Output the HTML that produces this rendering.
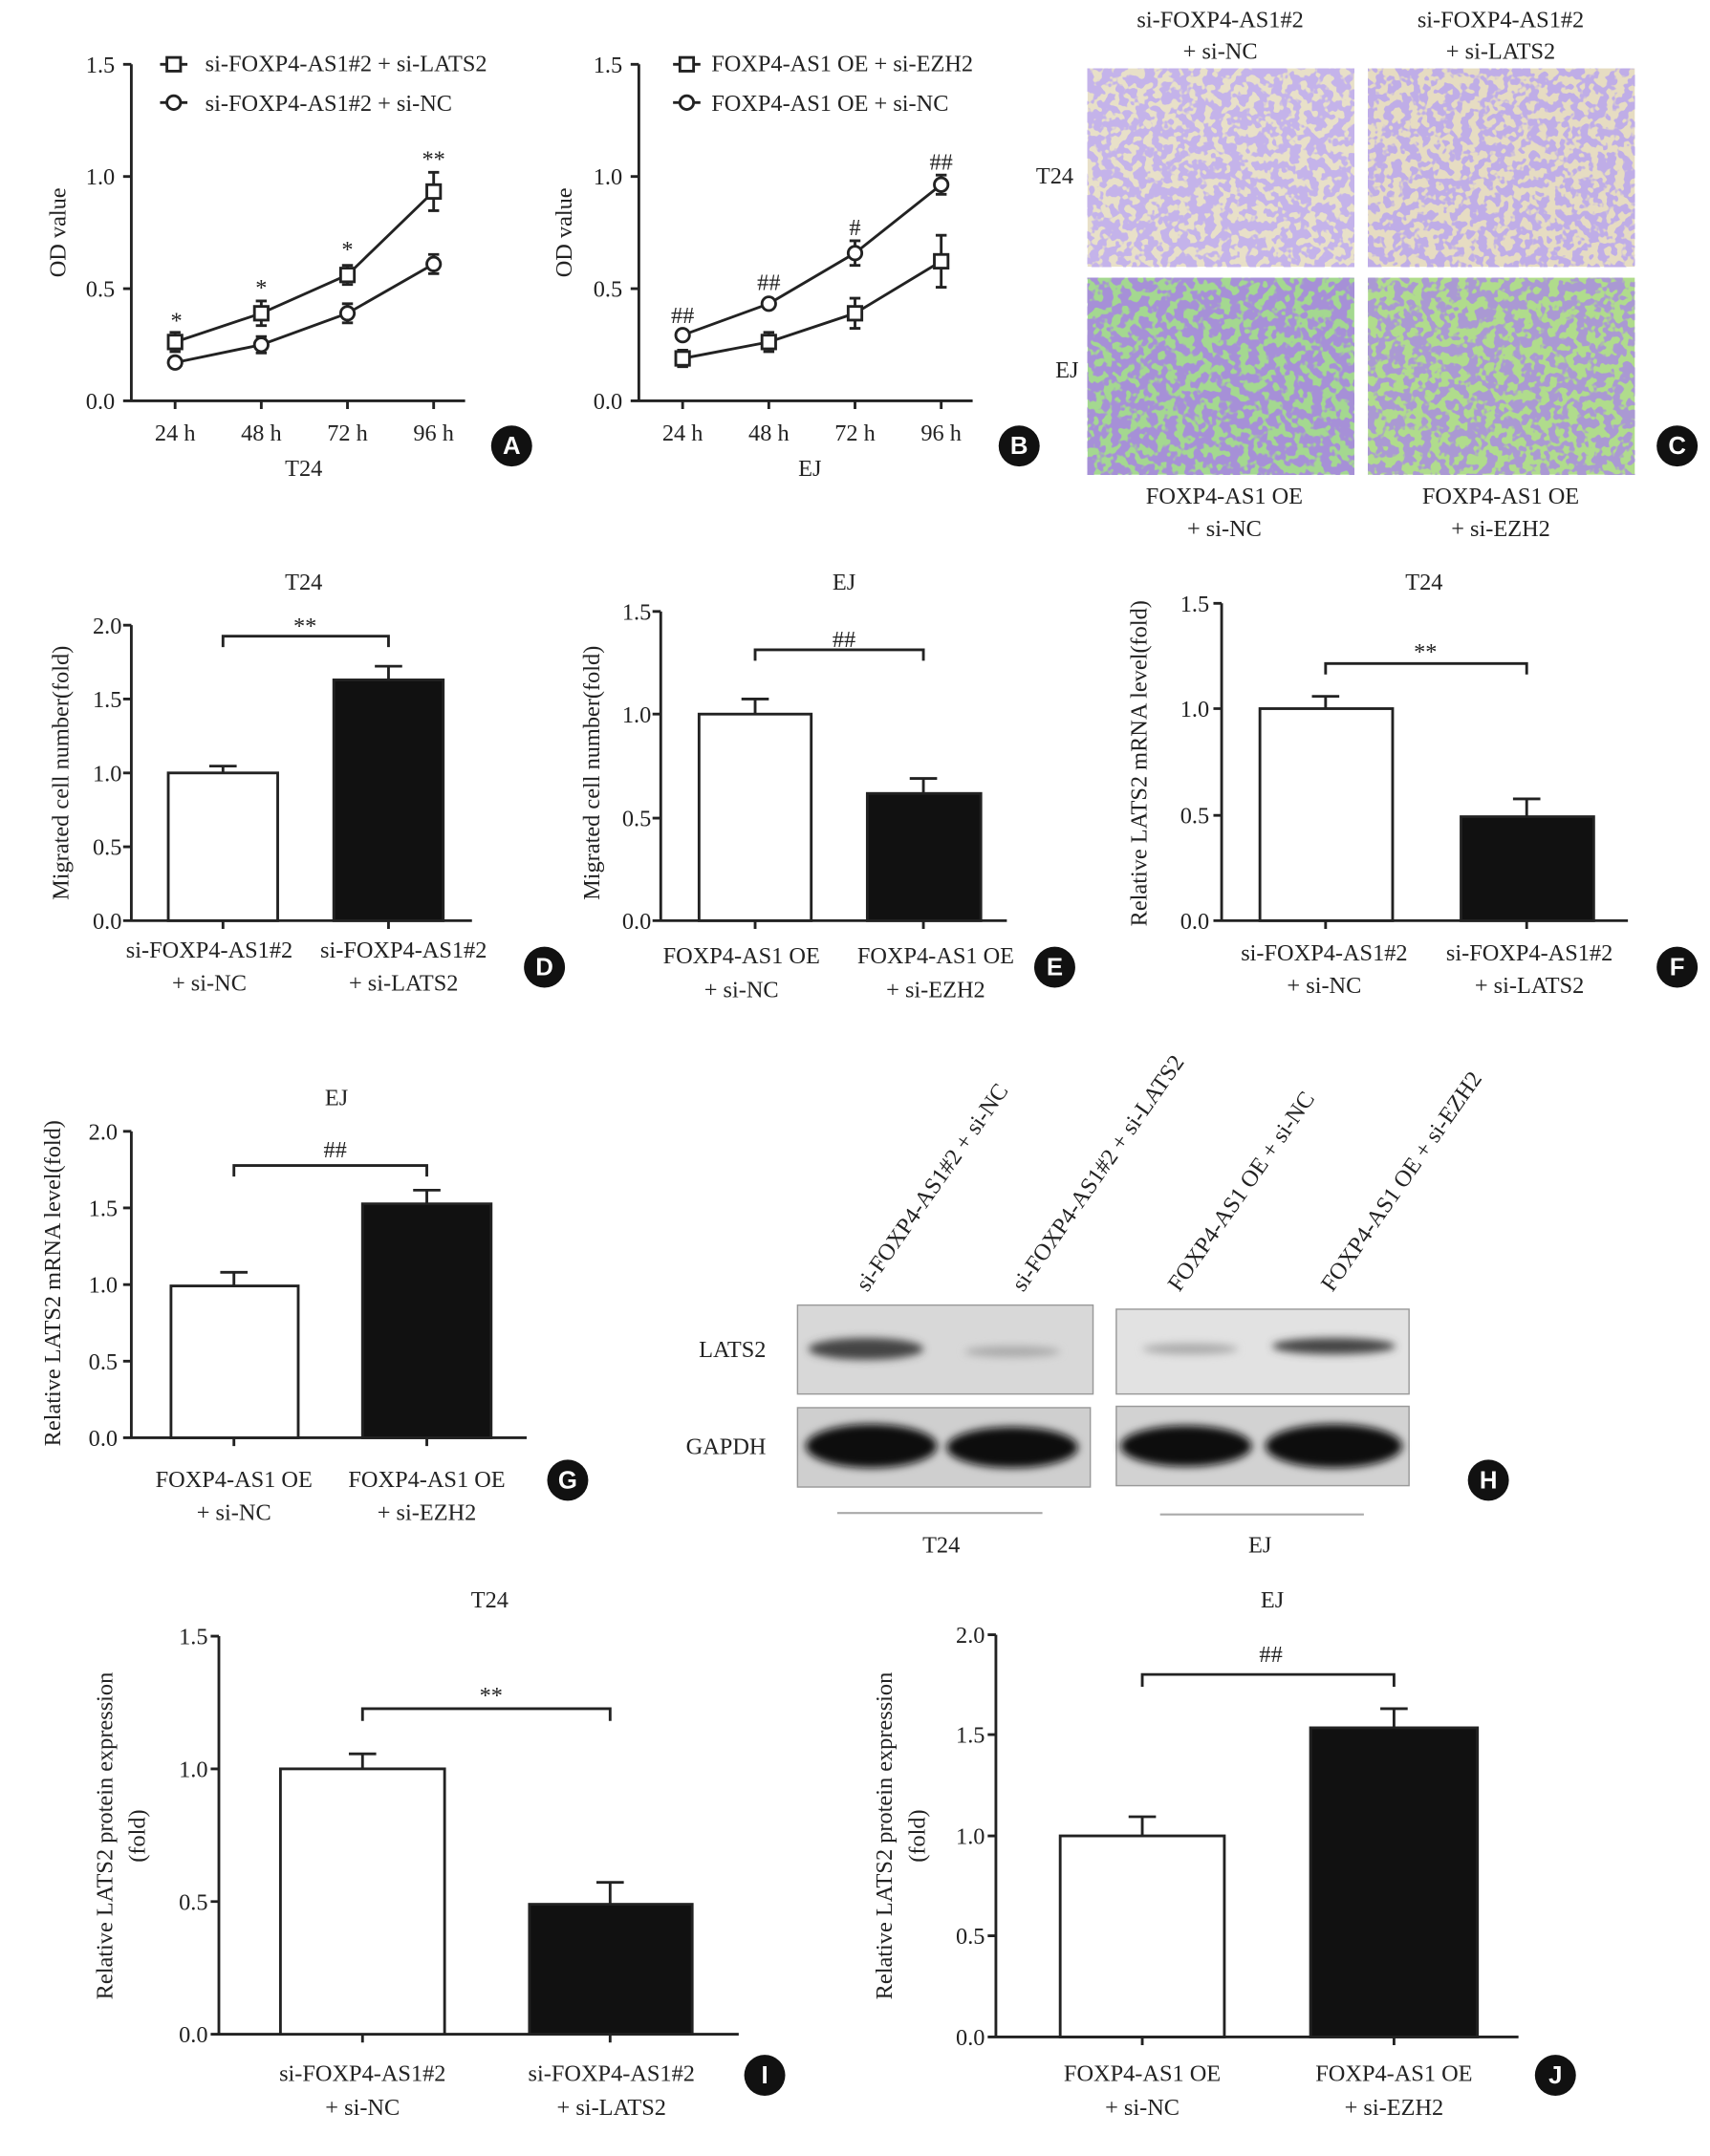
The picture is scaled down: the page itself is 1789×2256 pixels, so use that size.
<!DOCTYPE html>
<html><head><meta charset="utf-8"><style>
html,body{margin:0;padding:0;background:#fff;}
svg{display:block;}
text{font-family:"Liberation Serif",serif;font-size:17px;fill:#222;}
.b{font-family:"Liberation Sans",sans-serif;font-weight:bold;font-size:18px;fill:#fff;}
</style></head><body>
<svg width="1789" height="2256" viewBox="0 0 1250 1576" preserveAspectRatio="none" xmlns="http://www.w3.org/2000/svg">
<defs>
<filter id="cA" x="0" y="0" width="100%" height="100%"><feTurbulence type="fractalNoise" baseFrequency="0.16" numOctaves="2" seed="3"/><feColorMatrix type="matrix" values="0 0 0 0 0.55  0 0 0 0 0.45  0 0 0 0 0.82  0 0 0 -14 7.9"/></filter>
<filter id="cB" x="0" y="0" width="100%" height="100%"><feTurbulence type="fractalNoise" baseFrequency="0.16" numOctaves="2" seed="9"/><feColorMatrix type="matrix" values="0 0 0 0 0.52  0 0 0 0 0.42  0 0 0 0 0.80  0 0 0 -14 7.6"/></filter>
<filter id="cC" x="0" y="0" width="100%" height="100%"><feTurbulence type="fractalNoise" baseFrequency="0.15" numOctaves="2" seed="5"/><feColorMatrix type="matrix" values="0 0 0 0 0.38  0 0 0 0 0.28  0 0 0 0 0.68  0 0 0 -12 6.8"/></filter>
<filter id="cD" x="0" y="0" width="100%" height="100%"><feTurbulence type="fractalNoise" baseFrequency="0.15" numOctaves="2" seed="11"/><feColorMatrix type="matrix" values="0 0 0 0 0.40  0 0 0 0 0.32  0 0 0 0 0.65  0 0 0 -14 7.6"/></filter>
<filter id="blur"><feGaussianBlur stdDeviation="3"/></filter>
</defs>
<g stroke="#222" stroke-width="2" fill="none">
<path d="M96 47V293H340M90 47H96M90 129H96M90 211H96M90 293H96M128 293v6M191 293v6M254 293v6M317 293v6"/>
<path d="M128 250L191 229L254 201L317 140"/>
<path d="M128 265L191 252L254 229L317 193"/>
<path d="M128 243v14M124 243h8M124 257h8M191 220v18M187 220h8M187 238h8M254 194v14M250 194h8M250 208h8M317 126v28M313 126h8M313 154h8M317 186v14M313 186h8M313 200h8M254 222v14M250 222h8M250 236h8M191 246v12M187 246h8M187 258h8"/>
<g fill="#fff"><rect x="123" y="245" width="10" height="10"/><rect x="186" y="224" width="10" height="10"/><rect x="249" y="196" width="10" height="10"/><rect x="312" y="135" width="10" height="10"/>
<circle cx="128" cy="265" r="5"/><circle cx="191" cy="252" r="5"/><circle cx="254" cy="229" r="5"/><circle cx="317" cy="193" r="5"/></g>
<path d="M117 47h20M117 75h20"/><rect x="122" y="42" width="10" height="10" fill="#fff"/><circle cx="127" cy="75" r="5" fill="#fff"/>
<path d="M467 47V293H711M461 47H467M461 129H467M461 211H467M461 293H467M499 293v6M562 293v6M625 293v6M688 293v6"/>
<path d="M499 262L562 250L625 229L688 191"/>
<path d="M499 245L562 222L625 185L688 135"/>
<path d="M499 256v12M495 256h8M495 268h8M562 243v14M558 243h8M558 257h8M625 218v22M621 218h8M621 240h8M688 172v38M684 172h8M684 210h8M625 176v18M621 176h8M621 194h8M688 128v14M684 128h8M684 142h8"/>
<g fill="#fff"><rect x="494" y="257" width="10" height="10"/><rect x="557" y="245" width="10" height="10"/><rect x="620" y="224" width="10" height="10"/><rect x="683" y="186" width="10" height="10"/>
<circle cx="499" cy="245" r="5"/><circle cx="562" cy="222" r="5"/><circle cx="625" cy="185" r="5"/><circle cx="688" cy="135" r="5"/></g>
<path d="M492 47h20M492 75h20"/><rect x="497" y="42" width="10" height="10" fill="#fff"/><circle cx="502" cy="75" r="5" fill="#fff"/>
<path d="M96 457V673H345M90 457H96M90 511H96M90 565H96M90 619H96M90 673H96M163 673v6M284 673v6"/>
<rect x="123" y="565" width="80" height="108" fill="#fff"/><rect x="244" y="497" width="80" height="176" fill="#111"/>
<path d="M163 565v-5M153 560h20M284 497v-10M274 487h20M163 473v-8H284v8"/>
<path d="M483 447V673H736M477 447H483M477 522H483M477 598H483M477 673H483M552 673v6M675 673v6"/>
<rect x="511" y="522" width="82" height="151" fill="#fff"/><rect x="634" y="580" width="83" height="93" fill="#111"/>
<path d="M552 522v-11M542 511h20M675 580v-11M665 569h20M552 483v-8H675v8"/>
<path d="M893 441V673H1190M887 441H893M887 518H893M887 596H893M887 673H893M969 673v6M1116 673v6"/>
<rect x="921" y="518" width="97" height="155" fill="#fff"/><rect x="1068" y="597" width="97" height="76" fill="#111"/>
<path d="M969 518v-9M959 509h20M1116 597v-13M1106 584h20M969 493v-8H1116v8"/>
<path d="M96 827V1051H385M90 827H96M90 883H96M90 939H96M90 995H96M90 1051H96M171 1051v6M312 1051v6"/>
<rect x="125" y="940" width="93" height="111" fill="#fff"/><rect x="265" y="880" width="94" height="171" fill="#111"/>
<path d="M171 940v-10M161 930h20M312 880v-10M302 870h20M171 860v-8H312v8"/>
<path d="M160 1196V1487H540M154 1196H160M154 1293H160M154 1390H160M154 1487H160M265 1487v6M446 1487v6"/>
<rect x="205" y="1293" width="120" height="194" fill="#fff"/><rect x="387" y="1392" width="119" height="95" fill="#111"/>
<path d="M265 1293v-11M255 1282h20M446 1392v-16M436 1376h20M265 1258v-9H446v9"/>
<path d="M728 1195V1489H1110M722 1195H728M722 1268H728M722 1342H728M722 1415H728M722 1489H728M835 1489v6M1019 1489v6"/>
<rect x="775" y="1342" width="120" height="147" fill="#fff"/><rect x="958" y="1263" width="122" height="226" fill="#111"/>
<path d="M835 1342v-14M825 1328h20M1019 1263v-14M1009 1249h20M835 1233v-9H1019v9"/>
</g>
<rect x="795" y="50" width="195" height="145" fill="#e8e0c8"/><rect x="795" y="50" width="195" height="145" filter="url(#cA)"/>
<rect x="1000" y="50" width="195" height="145" fill="#e6dcc2"/><rect x="1000" y="50" width="195" height="145" filter="url(#cB)"/>
<rect x="795" y="203" width="195" height="144" fill="#a4d890"/><rect x="795" y="203" width="195" height="144" filter="url(#cC)"/>
<rect x="1000" y="203" width="195" height="144" fill="#b0dc8c"/><rect x="1000" y="203" width="195" height="144" filter="url(#cD)"/>
<rect x="583" y="954" width="216" height="65" fill="#d8d8d8" stroke="#999"/>
<rect x="816" y="957" width="214" height="62" fill="#e2e2e2" stroke="#999"/>
<rect x="583" y="1029" width="214" height="58" fill="#cfcfcf" stroke="#999"/>
<rect x="816" y="1028" width="214" height="58" fill="#d2d2d2" stroke="#999"/>
<g filter="url(#blur)">
<ellipse cx="633" cy="986" rx="42" ry="8" fill="#444"/><ellipse cx="740" cy="988" rx="35" ry="4" fill="#aaa"/>
<ellipse cx="870" cy="986" rx="35" ry="4" fill="#aaa"/><ellipse cx="975" cy="984" rx="45" ry="6" fill="#444"/>
<ellipse cx="637" cy="1057" rx="48" ry="16" fill="#111"/><ellipse cx="740" cy="1058" rx="48" ry="15" fill="#111"/>
<ellipse cx="867" cy="1057" rx="48" ry="15" fill="#111"/><ellipse cx="975" cy="1057" rx="50" ry="16" fill="#111"/>
</g>
<path d="M612 1106H762M848 1107H997" stroke="#aaa" stroke-width="1.5"/>
<g text-anchor="end">
<text x="84" y="53">1.5</text><text x="84" y="135">1.0</text><text x="84" y="217">0.5</text><text x="84" y="299">0.0</text>
<text x="455" y="53">1.5</text><text x="455" y="135">1.0</text><text x="455" y="217">0.5</text><text x="455" y="299">0.0</text>
<text x="89" y="463">2.0</text><text x="89" y="517">1.5</text><text x="89" y="571">1.0</text><text x="89" y="625">0.5</text><text x="89" y="679">0.0</text>
<text x="476" y="453">1.5</text><text x="476" y="528">1.0</text><text x="476" y="604">0.5</text><text x="476" y="679">0.0</text>
<text x="884" y="447">1.5</text><text x="884" y="524">1.0</text><text x="884" y="602">0.5</text><text x="884" y="679">0.0</text>
<text x="86" y="833">2.0</text><text x="86" y="889">1.5</text><text x="86" y="945">1.0</text><text x="86" y="1001">0.5</text><text x="86" y="1057">0.0</text>
<text x="152" y="1202">1.5</text><text x="152" y="1299">1.0</text><text x="152" y="1396">0.5</text><text x="152" y="1493">0.0</text>
<text x="720" y="1201">2.0</text><text x="720" y="1274">1.5</text><text x="720" y="1348">1.0</text><text x="720" y="1421">0.5</text><text x="720" y="1495">0.0</text>
<text x="560" y="992">LATS2</text><text x="560" y="1063">GAPDH</text>
</g>
<g text-anchor="middle">
<text x="128" y="322">24 h</text><text x="191" y="322">48 h</text><text x="254" y="322">72 h</text><text x="317" y="322">96 h</text><text x="222" y="348">T24</text>
<text x="499" y="322">24 h</text><text x="562" y="322">48 h</text><text x="625" y="322">72 h</text><text x="688" y="322">96 h</text><text x="592" y="348">EJ</text>
<text x="129" y="240">*</text><text x="191" y="216">*</text><text x="254" y="188">*</text><text x="317" y="122">**</text>
<text x="499" y="236">##</text><text x="562" y="212">##</text><text x="625" y="172">#</text><text x="688" y="124">##</text>
<text x="892" y="20">si-FOXP4-AS1#2</text><text x="892" y="43">+ si-NC</text>
<text x="1097" y="20">si-FOXP4-AS1#2</text><text x="1097" y="43">+ si-LATS2</text>
<text x="895" y="368">FOXP4-AS1 OE</text><text x="895" y="392">+ si-NC</text>
<text x="1097" y="368">FOXP4-AS1 OE</text><text x="1097" y="392">+ si-EZH2</text>
<text x="771" y="134">T24</text><text x="780" y="276">EJ</text>
<text x="222" y="431">T24</text><text x="617" y="431">EJ</text><text x="1041" y="431">T24</text><text x="246" y="808">EJ</text>
<text x="358" y="1175">T24</text><text x="930" y="1175">EJ</text>
<text x="223" y="463">**</text><text x="617" y="473">##</text><text x="1042" y="482">**</text><text x="245" y="846">##</text><text x="359" y="1245">**</text><text x="929" y="1215">##</text>
<text x="153" y="700">si-FOXP4-AS1#2</text><text x="153" y="724">+ si-NC</text><text x="295" y="700">si-FOXP4-AS1#2</text><text x="295" y="724">+ si-LATS2</text>
<text x="542" y="704">FOXP4-AS1 OE</text><text x="542" y="729">+ si-NC</text><text x="684" y="704">FOXP4-AS1 OE</text><text x="684" y="729">+ si-EZH2</text>
<text x="968" y="702">si-FOXP4-AS1#2</text><text x="968" y="726">+ si-NC</text><text x="1118" y="702">si-FOXP4-AS1#2</text><text x="1118" y="726">+ si-LATS2</text>
<text x="171" y="1087">FOXP4-AS1 OE</text><text x="171" y="1111">+ si-NC</text><text x="312" y="1087">FOXP4-AS1 OE</text><text x="312" y="1111">+ si-EZH2</text>
<text x="265" y="1521">si-FOXP4-AS1#2</text><text x="265" y="1546">+ si-NC</text><text x="447" y="1521">si-FOXP4-AS1#2</text><text x="447" y="1546">+ si-LATS2</text>
<text x="835" y="1521">FOXP4-AS1 OE</text><text x="835" y="1546">+ si-NC</text><text x="1019" y="1521">FOXP4-AS1 OE</text><text x="1019" y="1546">+ si-EZH2</text>
<text x="688" y="1135">T24</text><text x="921" y="1135">EJ</text>
<text transform="translate(48 170) rotate(-90)">OD value</text>
<text transform="translate(418 170) rotate(-90)">OD value</text>
<text transform="translate(50 565) rotate(-90)">Migrated cell number(fold)</text>
<text transform="translate(438 565) rotate(-90)">Migrated cell number(fold)</text>
<text transform="translate(838 558) rotate(-90)">Relative LATS2 mRNA level(fold)</text>
<text transform="translate(44 938) rotate(-90)">Relative LATS2 mRNA level(fold)</text>
<text transform="translate(82 1342) rotate(-90)">Relative LATS2 protein expression</text>
<text transform="translate(106 1342) rotate(-90)">(fold)</text>
<text transform="translate(652 1342) rotate(-90)">Relative LATS2 protein expression</text>
<text transform="translate(676 1342) rotate(-90)">(fold)</text>
</g>
<text x="150" y="52">si-FOXP4-AS1#2 + si-LATS2</text><text x="150" y="81">si-FOXP4-AS1#2 + si-NC</text>
<text x="520" y="52">FOXP4-AS1 OE + si-EZH2</text><text x="520" y="81">FOXP4-AS1 OE + si-NC</text>
<text transform="translate(634 945) rotate(-55)">si-FOXP4-AS1#2 + si-NC</text>
<text transform="translate(748 945) rotate(-55)">si-FOXP4-AS1#2 + si-LATS2</text>
<text transform="translate(862 945) rotate(-55)">FOXP4-AS1 OE + si-NC</text>
<text transform="translate(974 945) rotate(-55)">FOXP4-AS1 OE + si-EZH2</text>
<g fill="#111">
<circle cx="374" cy="326" r="15"/><circle cx="745" cy="326" r="15"/><circle cx="1226" cy="326" r="15"/>
<circle cx="398" cy="707" r="15"/><circle cx="771" cy="707" r="15"/><circle cx="1226" cy="707" r="15"/>
<circle cx="415" cy="1082" r="15"/><circle cx="1088" cy="1082" r="15"/>
<circle cx="559" cy="1517" r="15"/><circle cx="1137" cy="1517" r="15"/>
</g>
<g text-anchor="middle">
<text class="b" x="374" y="332">A</text><text class="b" x="745" y="332">B</text><text class="b" x="1226" y="332">C</text>
<text class="b" x="398" y="713">D</text><text class="b" x="771" y="713">E</text><text class="b" x="1226" y="713">F</text>
<text class="b" x="415" y="1088">G</text><text class="b" x="1088" y="1088">H</text>
<text class="b" x="559" y="1523">I</text><text class="b" x="1137" y="1523">J</text>
</g>
</svg>
</body></html>
